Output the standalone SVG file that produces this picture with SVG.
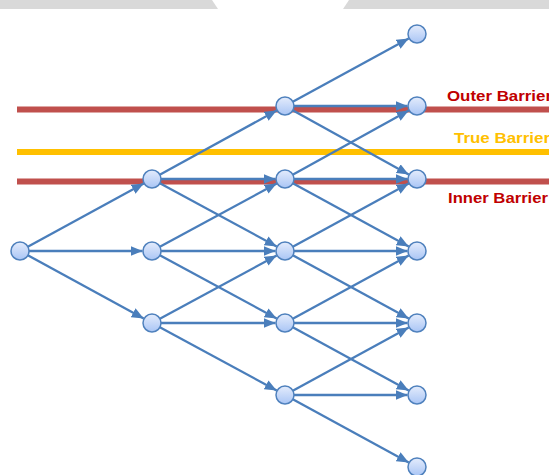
<svg xmlns="http://www.w3.org/2000/svg" width="549" height="475" viewBox="0 0 549 475">
<style>
.edge{stroke:#4a7ebb;stroke-width:2.3;fill:none;marker-end:url(#arr)}
.node circle{fill:url(#ng);stroke:#4f81bd;stroke-width:1.5}
.lbl{font-family:"Liberation Sans",Arial,sans-serif;font-weight:bold;font-size:15.5px}
.red{fill:#c00000}
.yel{fill:#ffc000}
</style>
<defs>
<linearGradient id="ng" x1="0" y1="0" x2="0" y2="1">
<stop offset="0" stop-color="#e4ecfc"/>
<stop offset="1" stop-color="#a9c5f5"/>
</linearGradient>
<marker id="arr" markerUnits="userSpaceOnUse" markerWidth="13" markerHeight="11" refX="12" refY="5" orient="auto">
<path d="M0,0 L12,5 L0,10 z" fill="#4a7ebb"/>
</marker>
</defs>
<rect width="549" height="475" fill="#ffffff"/>
<g id="topband" fill="#d9d9d9">
<polygon points="0,0 212,0 218,9 0,9"/>
<polygon points="349,0 549,0 549,9 343,9"/>
</g>
<g id="barriers">
<line x1="17" y1="109.5" x2="549" y2="109.5" stroke="#c0504d" stroke-width="6"/>
<line x1="17" y1="152" x2="549" y2="152" stroke="#ffc000" stroke-width="6"/>
<line x1="17" y1="181.5" x2="549" y2="181.5" stroke="#c0504d" stroke-width="6"/>
<text class="lbl red" x="447" y="100.5" textLength="105" lengthAdjust="spacingAndGlyphs">Outer Barrier</text>
<text class="lbl yel" x="454" y="142.5" textLength="96" lengthAdjust="spacingAndGlyphs">True Barrier</text>
<text class="lbl red" x="448" y="203" textLength="100" lengthAdjust="spacingAndGlyphs">Inner Barrier</text>
</g>
<g id="connectors">
<line class="edge" x1="20" y1="251" x2="143.7" y2="183.5"/>
<line class="edge" x1="20" y1="251" x2="142.5" y2="251"/>
<line class="edge" x1="20" y1="251" x2="143.7" y2="318.5"/>
<line class="edge" x1="152" y1="179" x2="276.7" y2="110.5"/>
<line class="edge" x1="152" y1="179" x2="275.5" y2="179"/>
<line class="edge" x1="152" y1="179" x2="276.7" y2="246.5"/>
<line class="edge" x1="152" y1="251" x2="276.7" y2="183.5"/>
<line class="edge" x1="152" y1="251" x2="275.5" y2="251"/>
<line class="edge" x1="152" y1="251" x2="276.7" y2="318.5"/>
<line class="edge" x1="152" y1="323" x2="276.7" y2="255.5"/>
<line class="edge" x1="152" y1="323" x2="275.5" y2="323"/>
<line class="edge" x1="152" y1="323" x2="276.7" y2="390.5"/>
<line class="edge" x1="285" y1="106" x2="408.7" y2="38.5"/>
<line class="edge" x1="285" y1="106" x2="407.5" y2="106"/>
<line class="edge" x1="285" y1="106" x2="408.7" y2="174.5"/>
<line class="edge" x1="285" y1="179" x2="408.7" y2="110.5"/>
<line class="edge" x1="285" y1="179" x2="407.5" y2="179"/>
<line class="edge" x1="285" y1="179" x2="408.7" y2="246.5"/>
<line class="edge" x1="285" y1="251" x2="408.7" y2="183.5"/>
<line class="edge" x1="285" y1="251" x2="407.5" y2="251"/>
<line class="edge" x1="285" y1="251" x2="408.7" y2="318.5"/>
<line class="edge" x1="285" y1="323" x2="408.7" y2="255.5"/>
<line class="edge" x1="285" y1="323" x2="407.5" y2="323"/>
<line class="edge" x1="285" y1="323" x2="408.7" y2="390.5"/>
<line class="edge" x1="285" y1="395" x2="408.7" y2="327.5"/>
<line class="edge" x1="285" y1="395" x2="407.5" y2="395"/>
<line class="edge" x1="285" y1="395" x2="408.7" y2="462.5"/>
</g>
<g id="R" class="node"><circle cx="20" cy="251" r="9"/></g>
<g id="A1" class="node"><circle cx="152" cy="179" r="9"/></g>
<g id="A2" class="node"><circle cx="152" cy="251" r="9"/></g>
<g id="A3" class="node"><circle cx="152" cy="323" r="9"/></g>
<g id="B1" class="node"><circle cx="285" cy="106" r="9"/></g>
<g id="B2" class="node"><circle cx="285" cy="179" r="9"/></g>
<g id="B3" class="node"><circle cx="285" cy="251" r="9"/></g>
<g id="B4" class="node"><circle cx="285" cy="323" r="9"/></g>
<g id="B5" class="node"><circle cx="285" cy="395" r="9"/></g>
<g id="C1" class="node"><circle cx="417" cy="34" r="9"/></g>
<g id="C2" class="node"><circle cx="417" cy="106" r="9"/></g>
<g id="C3" class="node"><circle cx="417" cy="179" r="9"/></g>
<g id="C4" class="node"><circle cx="417" cy="251" r="9"/></g>
<g id="C5" class="node"><circle cx="417" cy="323" r="9"/></g>
<g id="C6" class="node"><circle cx="417" cy="395" r="9"/></g>
<g id="C7" class="node"><circle cx="417" cy="467" r="9"/></g>
</svg>
